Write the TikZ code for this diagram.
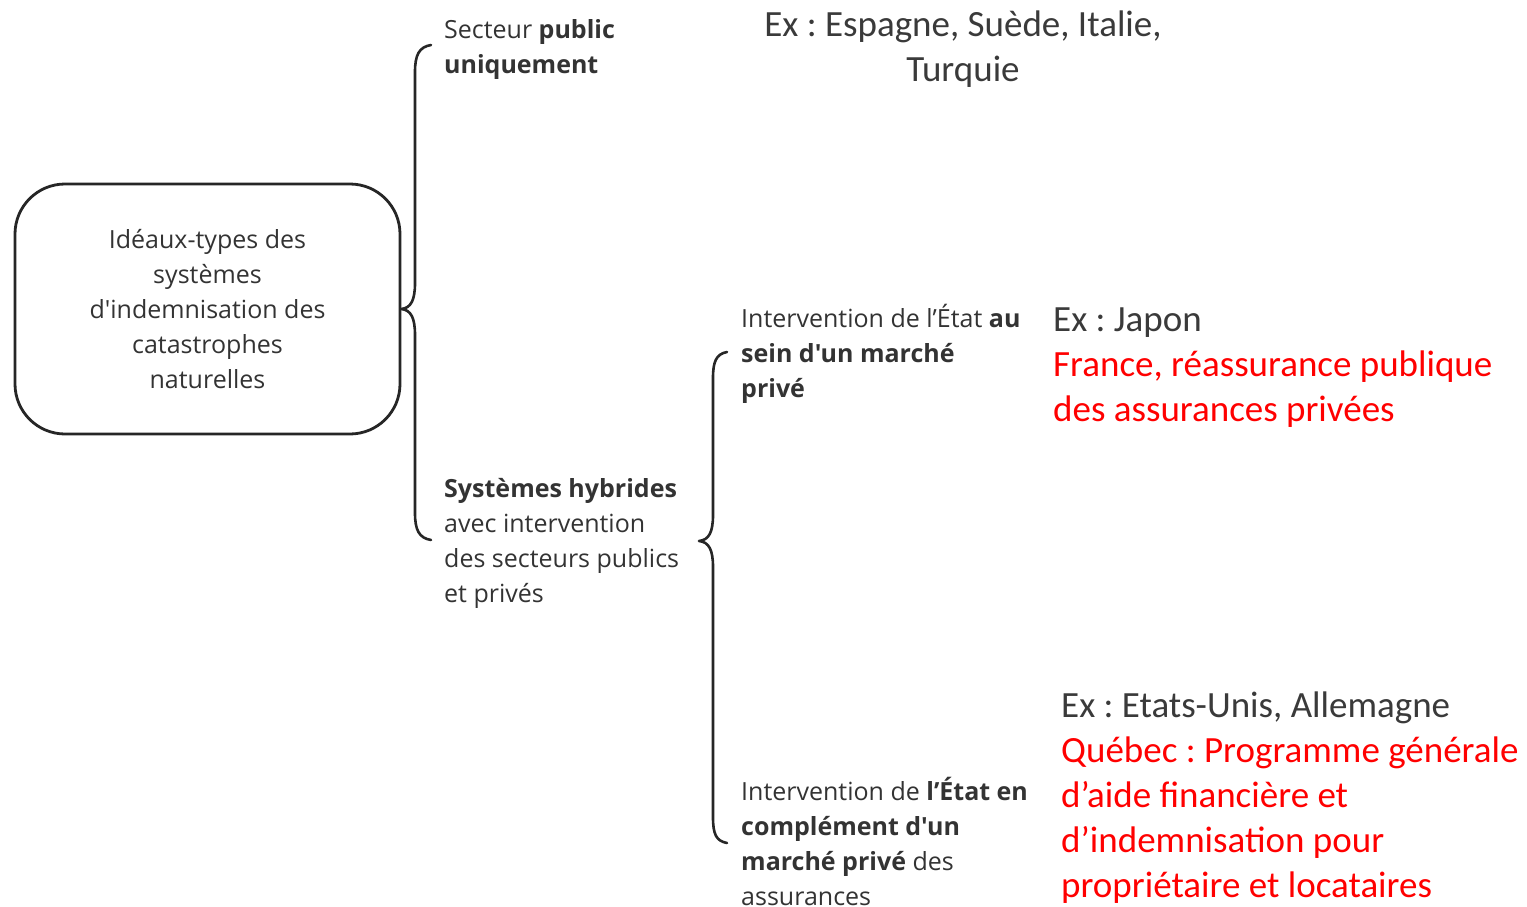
\documentclass[tikz,border=0pt]{standalone}
\usepackage{fontspec}
\setmainfont{Open Sans}[Ligatures=TeXOff]
\newfontfamily\exfont{Carlito}[Ligatures=TeXOff]
\definecolor{txt}{HTML}{333333}
\definecolor{extxt}{HTML}{3A3A3A}
\definecolor{redtxt}{HTML}{FF0000}
\tikzset{
  lbl/.style={inner sep=0pt, align=left, text=txt, font=\frenchspacing\fontsize{25}{35}\selectfont},
  exlbl/.style={inner sep=0pt, align=left, text=extxt, font=\frenchspacing\exfont\fontsize{37}{45}\selectfont},
  brace/.style={line width=2.6pt, draw=black!85, line cap=round, line join=round},
  rootbox/.style={draw=black!85, line width=2.8pt, rounded corners=50pt, minimum width=385pt, minimum height=250pt, inner sep=0pt, align=center, text=txt, font=\frenchspacing\fontsize{25}{35}\selectfont}
}
\begin{document}
\begin{tikzpicture}[x=1pt,y=-1pt]
\useasboundingbox (0,0) rectangle (1527,907);
\node[rootbox] (root) at (207.5,309) {};
\node[inner sep=0pt, align=center, text=txt, font=\frenchspacing\fontsize{25}{35}\selectfont] (roottext) at (207.5,309) {Idéaux-types des\\systèmes\\d'indemnisation des\\catastrophes\\naturelles};

\node[lbl, anchor=west] (pub) at (444,49.5) {Secteur \textbf{public}\\\textbf{uniquement}};
\node[lbl, anchor=west] (hyb) at (444,543) {\textbf{Systèmes hybrides}\\avec intervention\\des secteurs publics\\et privés};
\node[lbl, anchor=west] (inta) at (741,353.5) {Intervention de l’État \textbf{au}\\\textbf{sein d'un marché}\\\textbf{privé}};
\node[lbl, anchor=west] (intb) at (741,841) {Intervention de \textbf{l’État en}\\\textbf{complément d'un}\\\textbf{marché privé} des\\assurances};

\node[exlbl, align=center, anchor=center] (exa) at (963,49) {Ex : Espagne, Suède, Italie,\\Turquie};
\node[exlbl, anchor=west] (exb) at (1053,368) {Ex : Japon\\\textcolor{redtxt}{France, réassurance publique}\\\textcolor{redtxt}{des assurances privées}};
\node[exlbl, anchor=west] (exc) at (1061,797.5) {Ex : Etats-Unis, Allemagne\\\textcolor{redtxt}{Québec : Programme générale}\\\textcolor{redtxt}{d’aide financière et}\\\textcolor{redtxt}{d’indemnisation pour}\\\textcolor{redtxt}{propriétaire et locataires}};

% brace 1
\coordinate (t1) at (root.east);
\coordinate (a1) at (431,45);
\coordinate (b1) at (431,540);
\draw[brace] (a1) .. controls (419,47) and (415,55) .. (415,72) -- (415,283)
  .. controls (415,300) and (411,308) .. (t1)
  .. controls (411,310) and (415,318) .. (415,335) -- (415,513)
  .. controls (415,530) and (419,538) .. (b1);
% brace 2
\coordinate (t2) at (699,541);
\coordinate (a2) at (727,352);
\coordinate (b2) at (727,843);
\draw[brace] (a2) .. controls (716,354) and (713,362) .. (713,378) -- (713,515)
  .. controls (713,532) and (709,540) .. (t2)
  .. controls (709,542) and (713,550) .. (713,567) -- (713,817)
  .. controls (713,834) and (716,841) .. (b2);
\end{tikzpicture}
\end{document}
